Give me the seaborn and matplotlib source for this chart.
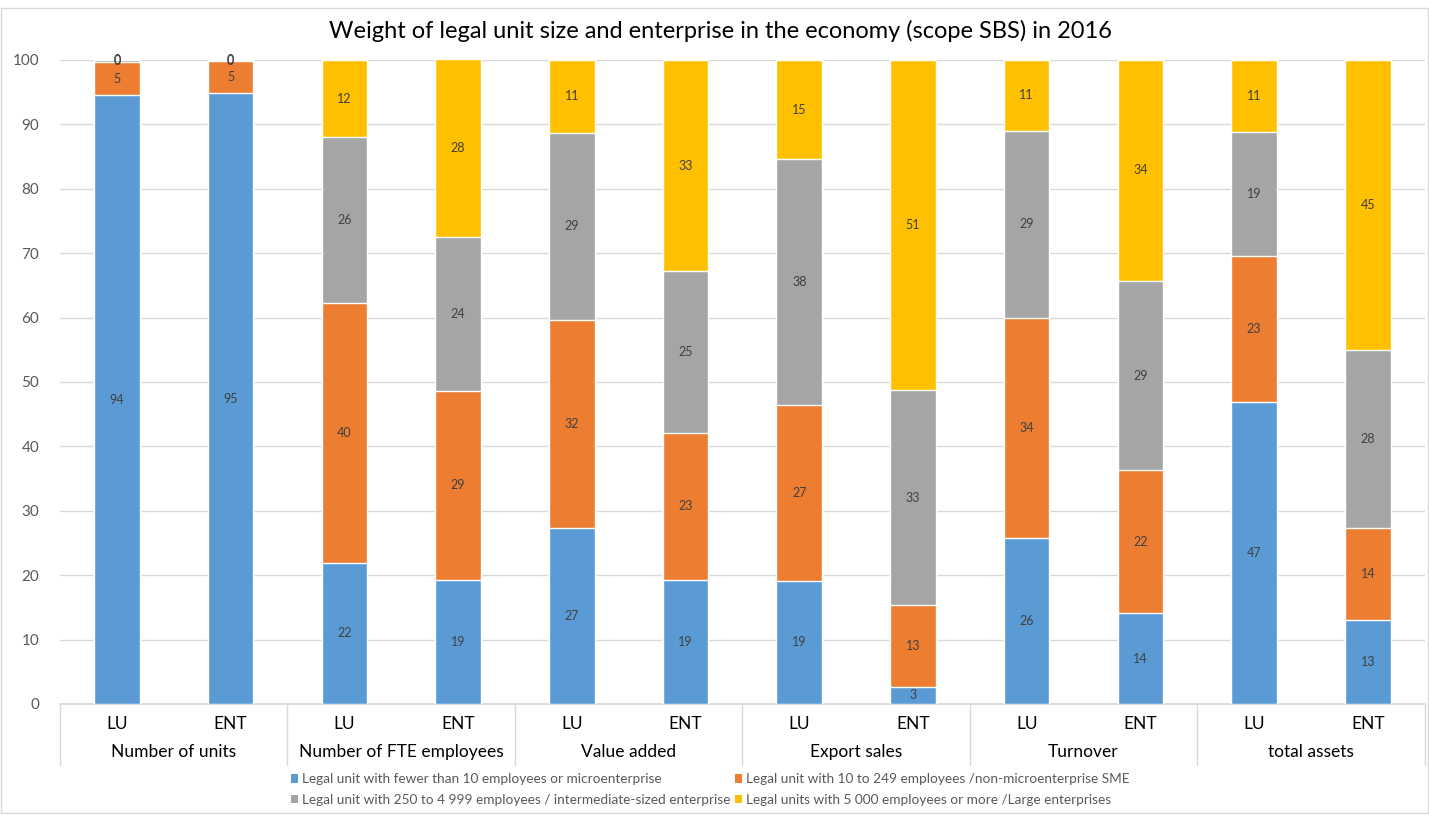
import numpy as np
import pandas as pd
import matplotlib
matplotlib.use("Agg")
import matplotlib.pyplot as plt
import matplotlib.transforms as mtransforms
from matplotlib.patches import Patch, Rectangle
import seaborn as sns

# data (shares in %)
groups = ["Number of units", "Number of FTE employees", "Value added",
          "Export sales", "Turnover", "total assets"]
units = ["LU", "ENT"]
micro = [94.5, 94.8, 21.9, 19.3, 27.4, 19.3, 19.1, 2.7, 25.8, 14.1, 46.9, 13.1]
sme = [5.2, 5.0, 40.4, 29.3, 32.3, 22.8, 27.3, 12.6, 34.2, 22.2, 22.7, 14.2]
interm = [0.25, 0.15, 25.7, 23.9, 29.0, 25.1, 38.2, 33.4, 29.0, 29.4, 19.2, 27.6]
large = [0.05, 0.05, 12.0, 27.6, 11.3, 32.8, 15.4, 51.3, 11.0, 34.3, 11.2, 45.1]

series_names = [
    "Legal unit with fewer than 10 employees or microenterprise",
    "Legal unit with 10 to 249 employees /non-microenterprise SME",
    "Legal unit with 250 to 4 999 employees / intermediate-sized enterprise",
    "Legal units with 5 000 employees or more /Large enterprises",
]
colors = ["#5B9BD5", "#ED7D31", "#A5A5A5", "#FFC000"]

sns.set_theme(style="white")
plt.rcParams["font.family"] = ["Lato", "DejaVu Sans"]

bar_ids = [f"{g}|{u}" for g in groups for u in units]
values = np.array([micro, sme, interm, large])
cum = np.cumsum(values, axis=0)

fig = plt.figure(figsize=(14.29, 8.15), dpi=100)
ax = fig.add_axes([0.042, 0.1362, 0.955, 0.7902])

# stacked bars: draw cumulative totals from top layer down
for i in range(3, -1, -1):
    df = pd.DataFrame({"bar": bar_ids, "val": cum[i]})
    sns.barplot(data=df, x="bar", y="val", order=bar_ids, color=colors[i],
                saturation=1, width=0.4, errorbar=None, ax=ax, zorder=3)

# value labels in the middle of each segment
for i in range(4):
    for j in range(len(bar_ids)):
        v = values[i, j]
        ax.text(j, cum[i, j] - v / 2, f"{v:.0f}", ha="center", va="center",
                fontsize=9, color="#404040", zorder=4)

ax.set_ylim(0, 100)
ax.set_xlim(-0.5, len(bar_ids) - 0.5)
ax.set_yticks(range(0, 101, 10))
ax.tick_params(axis="y", labelsize=11, labelcolor="#595959", length=0, pad=15)
ax.yaxis.grid(True, color="#D9D9D9", linewidth=1, zorder=0)
ax.set_axisbelow(True)
ax.set_xlabel("")
ax.set_ylabel("")
ax.set_xticks(range(len(bar_ids)))
ax.set_xticklabels([u for g in groups for u in units])
ax.tick_params(axis="x", labelsize=12.5, labelcolor="#000000", length=0, pad=9)
for s in ["top", "right", "left"]:
    ax.spines[s].set_visible(False)
ax.spines["bottom"].set_color("#D9D9D9")

# second level of category axis
trans = mtransforms.blended_transform_factory(ax.transData, ax.transAxes)
for k, g in enumerate(groups):
    ax.text(2 * k + 0.5, -0.075, g, transform=trans, ha="center", va="center",
            fontsize=12.5, color="#000000")
for k in range(len(groups) + 1):
    ax.plot([2 * k - 0.5, 2 * k - 0.5], [0, -0.095], transform=trans,
            color="#D9D9D9", linewidth=1, clip_on=False)

fig.text(0.504, 0.962,
         "Weight of legal unit size and enterprise in the economy (scope SBS) in 2016",
         ha="center", va="center", fontsize=17, color="#000000")

# legend rows: blue/orange on top, gray/yellow below (matplotlib fills by column)
order = [0, 2, 1, 3]
handles = [Patch(facecolor=colors[k], edgecolor="none") for k in order]
labels = [series_names[k] for k in order]
fig.legend(handles, labels, loc="center", bbox_to_anchor=(0.497, 0.031),
           ncol=2, frameon=False, fontsize=9.8, labelcolor="#595959",
           handlelength=0.55, handleheight=0.55, handletextpad=0.3,
           columnspacing=0.3, labelspacing=0.65)

fig.patches.append(Rectangle((0.001, 0.002), 0.998, 0.988, transform=fig.transFigure,
                             fill=False, edgecolor="#D9D9D9", linewidth=1))

fig.savefig("out.png", dpi=100)
